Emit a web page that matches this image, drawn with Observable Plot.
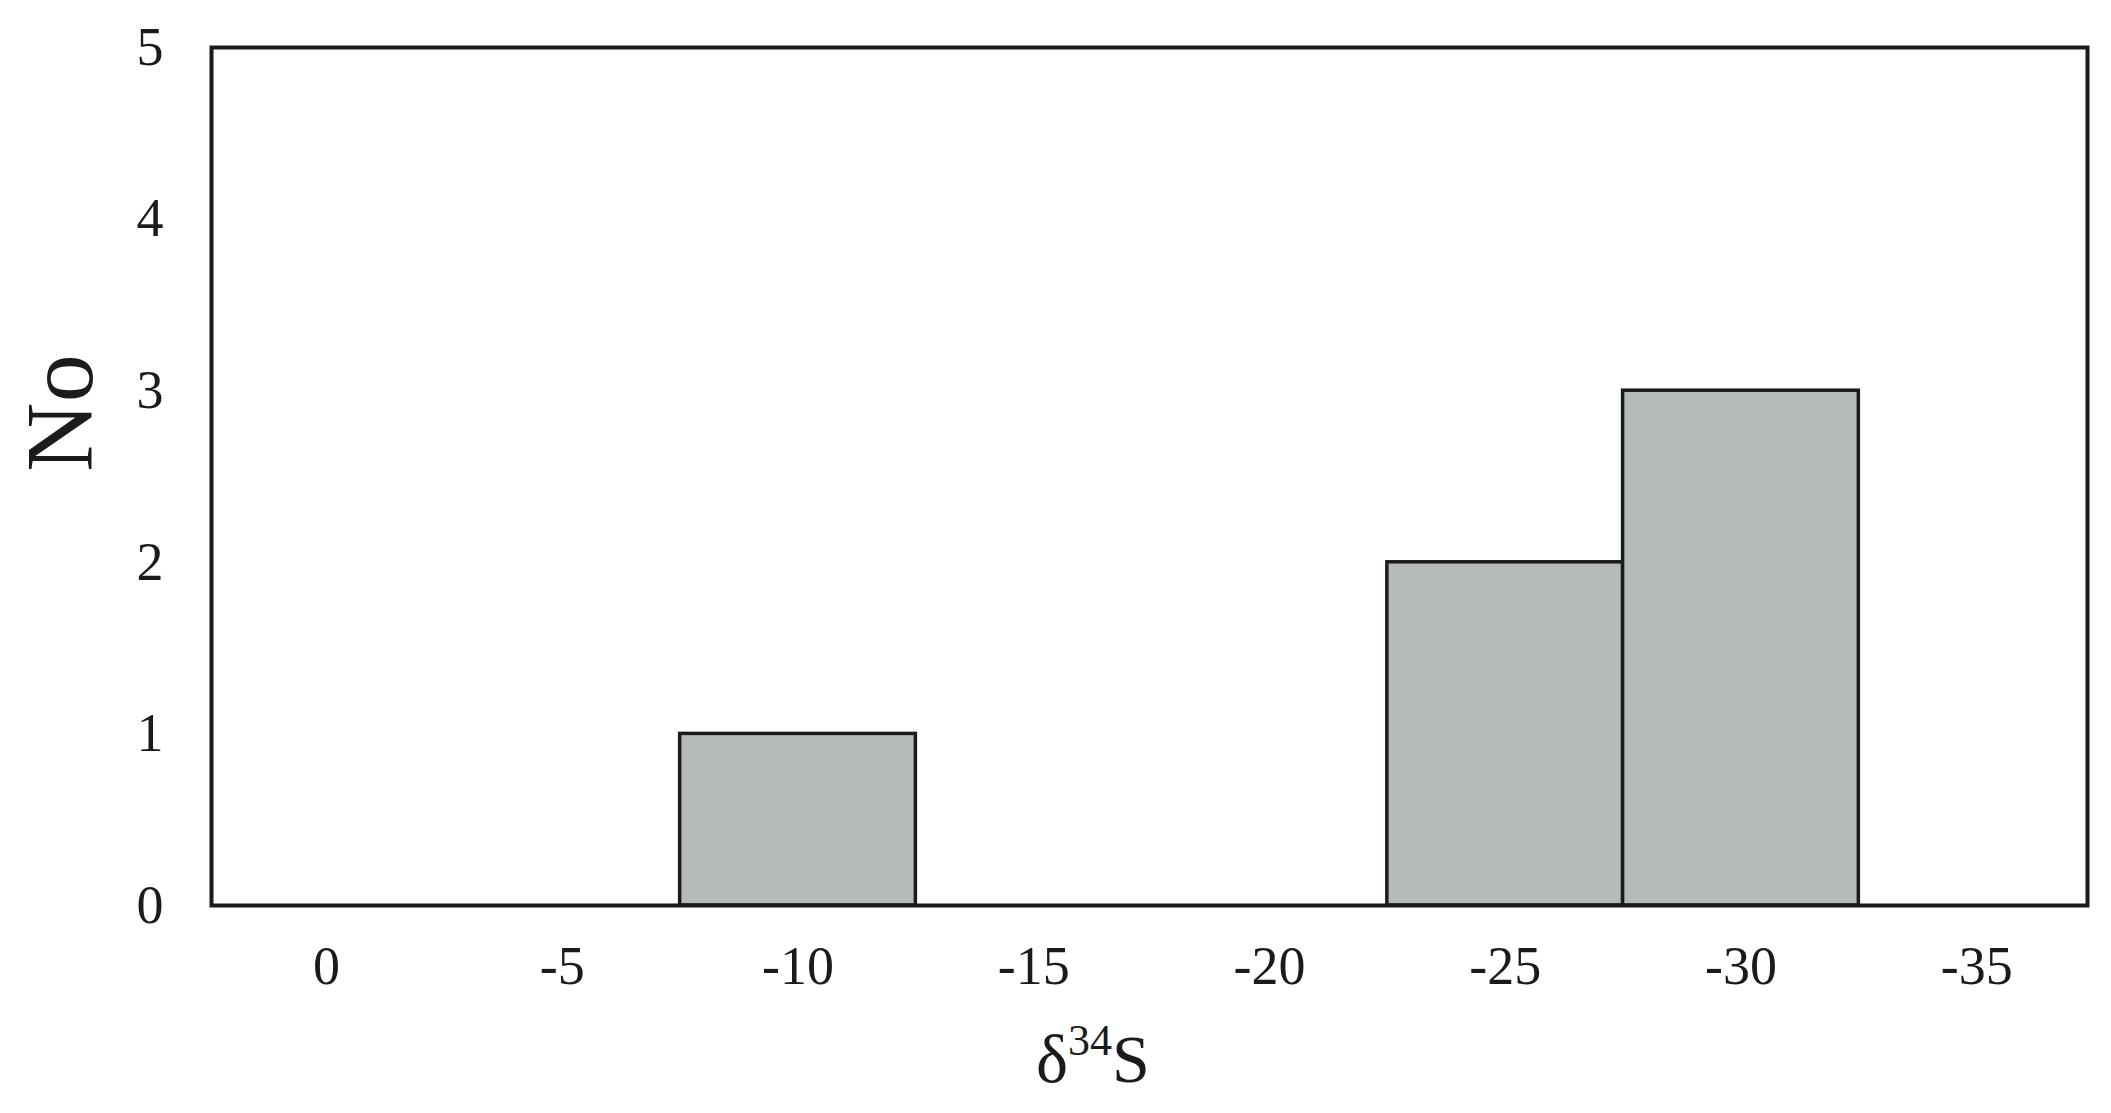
<!DOCTYPE html>
<html>
<head>
<meta charset="utf-8">
<script src="https://cdn.jsdelivr.net/npm/d3@7"></script>
<script src="https://cdn.jsdelivr.net/npm/@observablehq/plot@0.6"></script>
<style>
  html, body { margin: 0; padding: 0; background: #ffffff; }
  #chart svg { display: block; }
</style>
</head>
<body>
<div id="chart"></div>
<script>
// Bin centres (δ34S, ‰), bin width 5
const binCenters = [0, -5, -10, -15, -20, -25, -30, -35];
const counts     = [0, 0, 1, 0, 0, 2, 3, 0];
const binWidth = 5;
const xTicks = [0, -5, -10, -15, -20, -25, -30, -35];
const yTicks = [0, 1, 2, 3, 4, 5];
const xLabelMain = "δ";
const xLabelSup = "34";
const xLabelTail = "S";
const yLabel = "No";

const bins = binCenters
  .map((c, i) => ({x1: c + binWidth / 2, x2: c - binWidth / 2, count: counts[i]}))
  .filter(d => d.count > 0);

const W = 2111, H = 1113;
const ink = "#1b1b1b";

const chart = Plot.plot({
  width: W,
  height: H,
  marginLeft: 211,
  marginRight: 24,
  marginTop: 47,
  marginBottom: 208,
  style: {
    fontFamily: "'Liberation Serif', 'Times New Roman', serif",
    fontSize: "54px",
    color: ink,
    background: "#ffffff"
  },
  x: {type: "linear", domain: [2.44, -37.35]},
  y: {domain: [0, 5]},
  marks: [
    Plot.rectY(bins, {x1: "x1", x2: "x2", y: "count", fill: "#b4bbb8", stroke: ink, strokeWidth: 3.5, inset: 0}),
    Plot.frame({stroke: ink, strokeWidth: 4}),
    Plot.axisX(xTicks, {tickSize: 0, tickPadding: 40, tickFormat: d => `${d}`, label: null, fontSize: 54}),
    Plot.axisY(yTicks, {tickSize: 0, tickPadding: 48, tickFormat: d => `${d}`, label: null, fontSize: 54})
  ]
});

const svg = d3.select(chart);
const xl = svg.append("text")
  .attr("x", 1093)
  .attr("y", 1082)
  .attr("text-anchor", "middle")
  .attr("fill", ink)
  .style("font-family", "'Liberation Serif', 'Times New Roman', serif")
  .style("font-size", "68px");
xl.append("tspan").text(xLabelMain);
xl.append("tspan").attr("font-size", "44px").attr("dy", -27).text(xLabelSup);
xl.append("tspan").attr("dy", 27).text(xLabelTail);

svg.append("text")
  .attr("transform", "translate(92,413) rotate(-90)")
  .attr("text-anchor", "middle")
  .attr("fill", ink)
  .style("font-family", "'Liberation Serif', 'Times New Roman', serif")
  .style("font-size", "96px")
  .text(yLabel);

document.getElementById("chart").appendChild(chart);
</script>
</body>
</html>
